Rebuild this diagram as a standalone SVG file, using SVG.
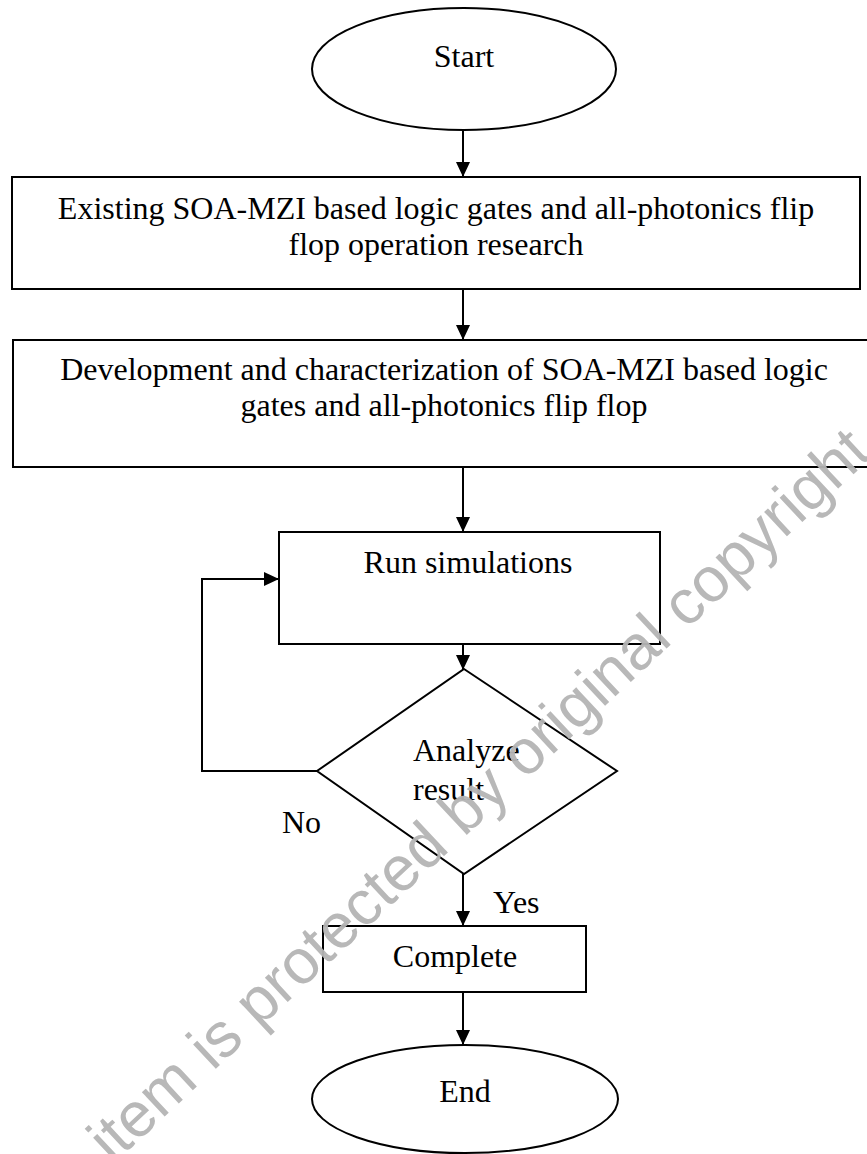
<svg xmlns="http://www.w3.org/2000/svg" width="867" height="1154" viewBox="0 0 867 1154">
<defs>
<style>
.shape{fill:#fff;stroke:#000;stroke-width:2}
.conn{fill:none;stroke:#000;stroke-width:2}
.t{font-family:"Liberation Serif","Times New Roman",serif;font-size:32px;fill:#000}
.c{text-anchor:middle}
.wm{font-family:"Liberation Sans",Arial,sans-serif;font-size:63px;fill:#b5b5b5}
</style>
<marker id="ah" markerWidth="15" markerHeight="14" refX="15" refY="7" orient="auto" markerUnits="userSpaceOnUse"><path d="M0,0 L15,7 L0,14 Z" fill="#000"/></marker>
</defs>
<rect width="867" height="1154" fill="#fff"/>
<g id="connectors">
<line class="conn" x1="463" y1="130" x2="463" y2="177" marker-end="url(#ah)"/>
<line class="conn" x1="463" y1="289" x2="463" y2="340" marker-end="url(#ah)"/>
<line class="conn" x1="463" y1="467" x2="463" y2="532" marker-end="url(#ah)"/>
<line class="conn" x1="463" y1="644" x2="463" y2="670" marker-end="url(#ah)"/>
<polyline class="conn" points="317,771 202,771 202,579 279,579" marker-end="url(#ah)"/>
<line class="conn" x1="463" y1="874" x2="463" y2="926" marker-end="url(#ah)"/>
<line class="conn" x1="463" y1="992" x2="463" y2="1045" marker-end="url(#ah)"/>
</g>
<g id="start">
<ellipse class="shape" cx="464" cy="69" rx="152" ry="61"/>
<text class="t c" x="464" y="67">Start</text>
</g>
<g id="research">
<rect class="shape" x="12" y="177" width="848" height="112"/>
<text class="t c" x="436" y="219">Existing SOA-MZI based logic gates and all-photonics flip</text>
<text class="t c" x="436" y="255">flop operation research</text>
</g>
<g id="development">
<rect class="shape" x="13" y="340" width="858" height="127"/>
<text class="t c" x="444" y="380">Development and characterization of SOA-MZI based logic</text>
<text class="t c" x="444" y="416">gates and all-photonics flip flop</text>
</g>
<g id="run">
<rect class="shape" x="279" y="532" width="381" height="112"/>
<text class="t c" x="468" y="573">Run simulations</text>
</g>
<g id="analyze">
<polygon class="shape" points="464,669 617,771 464,874 317,771"/>
<text class="t" x="413" y="761">Analyze</text>
<text class="t" x="413" y="800">result</text>
</g>
<g id="labels">
<text class="t" x="282" y="833">No</text>
<text class="t" x="493" y="913">Yes</text>
</g>
<g id="complete">
<rect class="shape" x="323" y="926" width="263" height="66"/>
<text class="t c" x="455" y="967">Complete</text>
</g>
<g id="end">
<ellipse class="shape" cx="465" cy="1099" rx="153" ry="54"/>
<text class="t c" x="465" y="1102">End</text>
</g>
<g id="watermark" opacity="0.95">
<text class="wm" x="13" y="1258" transform="rotate(-43 13 1258)">This item is protected by original copyright</text>
</g>
</svg>
